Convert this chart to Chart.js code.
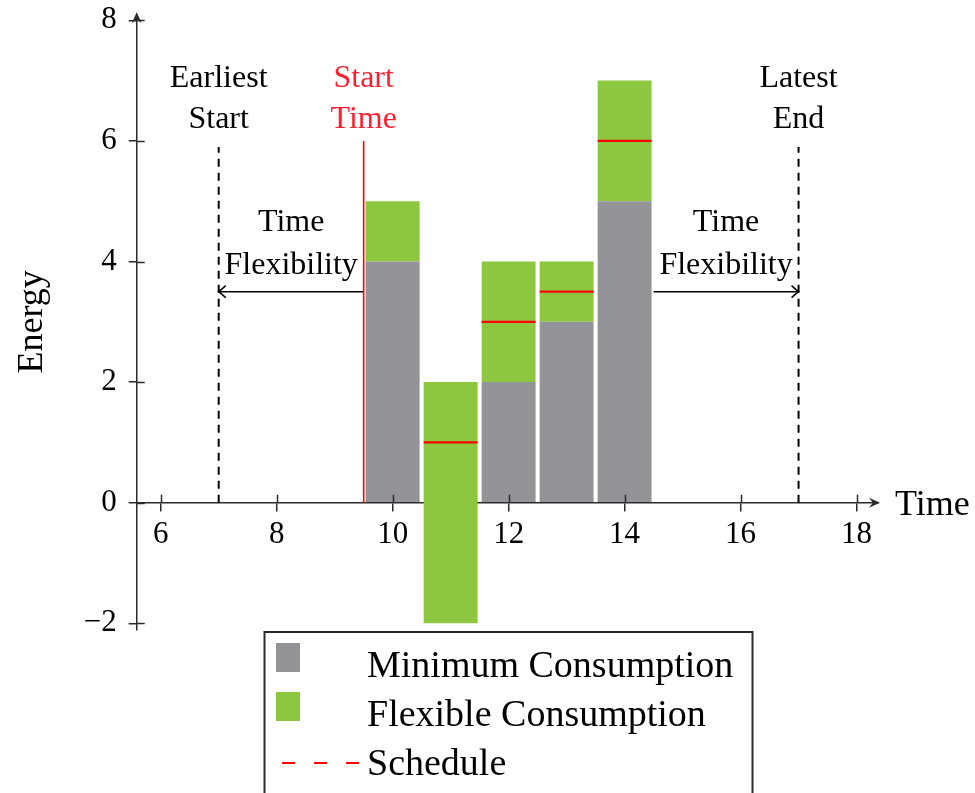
<!DOCTYPE html>
<html>
<head>
<meta charset="utf-8">
<script src="https://cdn.jsdelivr.net/npm/chart.js@4.4.1/dist/chart.umd.min.js"></script>
<style>
  html, body { margin: 0; padding: 0; background: #fff; }
  #wrap { width: 975px; height: 793px; }
</style>
</head>
<body>
<div id="wrap"><canvas id="chart-1" width="975" height="793"></canvas></div>
<script>
// time slots (bar centres)
const slots = [10, 11, 12, 13, 14];
// [low, high] energy of each block, null = no block in that slot
const minCons = [[0, 4], null, [0, 2], [0, 3], [0, 5]];
const flexCons = [[4, 5], [-2, 2], [2, 4], [3, 4], [5, 7]];
// schedule level per slot
const schedX = [11, 12, 13, 14];
const schedY = [1, 3, 3.5, 6];

// time markers
const earliestStart = 7;
const startTime = 9.5;
const latestEnd = 17;
const lastSlotEnd = 14.5;
const flexY = 3.5;
const markerTop = 5.9;
const startTop = 6;

const xTicks = [6, 8, 10, 12, 14, 16, 18];
const yTicks = [-2, 0, 2, 4, 6, 8];
const xRange = [5.586, 18.37];
const yRange = [-2.1, 8.1];

// text labels: lines, x value, y value of each line
const notes = [
    { lines: ['Earliest', 'Start'], x: 7, y: [7.04, 6.35], red: false },
    { lines: ['Start', 'Time'], x: 9.5, y: [7.04, 6.35], red: true },
    { lines: ['Latest', 'End'], x: 17, y: [7.03, 6.35], red: false },
    { lines: ['Time', 'Flexibility'], x: 8.25, y: [4.65, 3.94], red: false },
    { lines: ['Time', 'Flexibility'], x: 15.75, y: [4.65, 3.94], red: false }
];

const serif = "'Liberation Serif', 'Times New Roman', serif";
const ink = '#000';
const axisInk = '#2b2b2b';
const grey = '#939498';
const green = '#8dc63f';
const red = '#ff0000';
const barFrac = 0.93;

function blocks(arr) {
    let out = [];
    slots.forEach((x, i) => {
        if (arr[i]) out.push({ x: x, y: arr[i] });
    });
    return out;
}

function scheduleLine() {
    let hw = barFrac / 2;
    let out = [];
    schedX.forEach((x, i) => {
        out.push({ x: x - hw, y: schedY[i] });
        out.push({ x: x + hw, y: schedY[i] });
        out.push({ x: x + 0.5, y: null });
    });
    return out;
}

function stealth(ctx, x, y, ang, len, half) {
    ctx.save();
    ctx.translate(x, y);
    ctx.rotate(ang);
    ctx.beginPath();
    ctx.moveTo(0, 0);
    ctx.lineTo(-len, -half);
    ctx.lineTo(-len * 0.65, 0);
    ctx.lineTo(-len, half);
    ctx.closePath();
    ctx.fill();
    ctx.restore();
}

function openHead(ctx, x, y, ang, len, half) {
    ctx.save();
    ctx.translate(x, y);
    ctx.rotate(ang);
    ctx.beginPath();
    ctx.moveTo(-len, -half);
    ctx.quadraticCurveTo(-len * 0.3, -half * 0.25, 0, 0);
    ctx.quadraticCurveTo(-len * 0.3, half * 0.25, -len, half);
    ctx.stroke();
    ctx.restore();
}

// axis arrows, inner tick halves, arrow heads, texts
const decorations = {
    id: 'decorations',
    afterDatasetsDraw(chart) {
        const ctx = chart.ctx;
        const xs = chart.scales.x, ys = chart.scales.y;
        const x0 = xs.getPixelForValue(xRange[0]);
        const y0 = ys.getPixelForValue(0);
        ctx.save();
        ctx.strokeStyle = axisInk;
        ctx.fillStyle = axisInk;
        ctx.lineWidth = 1.5;
        // tick halves inside the plot
        xs.ticks.forEach(t => {
            let px = Math.round(xs.getPixelForValue(t.value)) + 0.5;
            ctx.beginPath();
            ctx.moveTo(px, y0);
            ctx.lineTo(px, y0 - 8);
            ctx.stroke();
        });
        ys.ticks.forEach(t => {
            let py = Math.round(ys.getPixelForValue(t.value)) + 0.5;
            ctx.beginPath();
            ctx.moveTo(x0, py);
            ctx.lineTo(x0 + 8, py);
            ctx.stroke();
        });
        // axis arrow heads
        stealth(ctx, xs.getPixelForValue(xRange[1]) + 2, y0, 0, 11, 5);
        stealth(ctx, x0, ys.getPixelForValue(yRange[1]) - 2, -Math.PI / 2, 11, 5);

        // heads on flexibility arrows
        ctx.strokeStyle = ink;
        ctx.lineWidth = 1.5;
        chart.data.datasets.forEach((ds, i) => {
            if (!ds.arrowEnd) return;
            let pts = chart.getDatasetMeta(i).data;
            let a = pts[pts.length - 2], b = pts[pts.length - 1];
            openHead(ctx, b.x, b.y, Math.atan2(b.y - a.y, b.x - a.x), 7, 6);
        });

        // notes
        ctx.textAlign = 'center';
        ctx.textBaseline = 'middle';
        ctx.font = '32px ' + serif;
        notes.forEach(n => {
            ctx.fillStyle = n.red ? '#ff1f2f' : ink;
            n.lines.forEach((s, k) => {
                ctx.fillText(s, xs.getPixelForValue(n.x), ys.getPixelForValue(n.y[k]));
            });
        });

        // x axis title at the arrow end
        ctx.fillStyle = ink;
        ctx.textAlign = 'left';
        ctx.textBaseline = 'alphabetic';
        ctx.font = '36px ' + serif;
        ctx.fillText('Time', xs.getPixelForValue(xRange[1]) + 17, y0 + 12);
        ctx.restore();
    }
};

// boxed legend under the plot
const legendBox = {
    id: 'legendBox',
    afterDraw(chart) {
        const ctx = chart.ctx;
        ctx.save();
        ctx.strokeStyle = '#2a2a2a';
        ctx.lineWidth = 2;
        ctx.strokeRect(264.5, 632, 488, 180);
        ctx.font = '38px ' + serif;
        ctx.textAlign = 'left';
        ctx.textBaseline = 'alphabetic';
        let items = chart.data.datasets.filter(d => d.inLegend);
        items.forEach((ds, i) => {
            let base = 677 + i * 49;
            if (ds.type === 'line') {
                ctx.strokeStyle = ds.borderColor;
                ctx.lineWidth = 2;
                ctx.setLineDash([13, 19]);
                ctx.beginPath();
                ctx.moveTo(282, base - 12);
                ctx.lineTo(360, base - 12);
                ctx.stroke();
                ctx.setLineDash([]);
            } else {
                ctx.fillStyle = ds.backgroundColor;
                ctx.fillRect(276, base - 34, 24, 29);
            }
            ctx.fillStyle = ink;
            ctx.fillText(ds.label, 367, base);
        });
        ctx.restore();
    }
};

const ctx = document.getElementById('chart-1').getContext('2d');

const chart_1 = new Chart(ctx, {
    type: 'bar',
    data: {
        datasets: [
            {
                label: 'Minimum Consumption',
                data: blocks(minCons),
                backgroundColor: grey,
                grouped: false,
                barPercentage: barFrac,
                categoryPercentage: 1,
                order: 2,
                inLegend: true
            },
            {
                label: 'Flexible Consumption',
                data: blocks(flexCons),
                backgroundColor: green,
                grouped: false,
                barPercentage: barFrac,
                categoryPercentage: 1,
                order: 2,
                inLegend: true
            },
            {
                type: 'line',
                label: 'Schedule',
                data: scheduleLine(),
                borderColor: red,
                borderWidth: 2.2,
                pointRadius: 0,
                spanGaps: false,
                order: 0,
                inLegend: true
            },
            {
                type: 'line',
                data: [{ x: earliestStart, y: 0 }, { x: earliestStart, y: markerTop }],
                borderColor: ink,
                borderWidth: 2,
                borderDash: [8, 6],
                pointRadius: 0,
                order: 1
            },
            {
                type: 'line',
                data: [{ x: latestEnd, y: 0 }, { x: latestEnd, y: markerTop }],
                borderColor: ink,
                borderWidth: 2,
                borderDash: [8, 6],
                pointRadius: 0,
                order: 1
            },
            {
                type: 'line',
                data: [{ x: startTime, y: 0 }, { x: startTime, y: startTop }],
                borderColor: red,
                borderWidth: 1.6,
                pointRadius: 0,
                order: 1
            },
            {
                type: 'line',
                data: [{ x: startTime, y: flexY }, { x: earliestStart, y: flexY }],
                borderColor: ink,
                borderWidth: 1.5,
                pointRadius: 0,
                order: 1,
                arrowEnd: true
            },
            {
                type: 'line',
                data: [{ x: lastSlotEnd, y: flexY }, { x: latestEnd, y: flexY }],
                borderColor: ink,
                borderWidth: 1.5,
                pointRadius: 0,
                order: 1,
                arrowEnd: true
            }
        ]
    },
    options: {
        responsive: false,
        animation: false,
        events: [],
        devicePixelRatio: 1,
        layout: {
            padding: { left: 0, right: 97, top: 14.3, bottom: 163.7 }
        },
        scales: {
            x: {
                type: 'linear',
                position: { y: 0 },
                min: xRange[0],
                max: xRange[1],
                offset: false,
                grid: {
                    offset: false,
                    drawOnChartArea: false,
                    color: axisInk,
                    lineWidth: 1.5,
                    tickLength: 8
                },
                border: { color: axisInk, width: 1.5 },
                ticks: {
                    font: { family: serif, size: 31 },
                    color: ink,
                    padding: 6,
                    maxRotation: 0
                },
                afterBuildTicks: scale => {
                    scale.ticks = xTicks.map(v => ({ value: v }));
                }
            },
            y: {
                type: 'linear',
                position: 'left',
                min: yRange[0],
                max: yRange[1],
                grid: {
                    drawOnChartArea: false,
                    color: axisInk,
                    lineWidth: 1.5,
                    tickLength: 8
                },
                border: { color: axisInk, width: 1.5 },
                ticks: {
                    font: { family: serif, size: 31, lineHeight: 0.05 },
                    color: ink,
                    padding: 12,
                    callback: v => String(v).replace('-', '\u2212')
                },
                title: {
                    display: true,
                    text: 'Energy',
                    color: ink,
                    font: { family: serif, size: 36 },
                    padding: { top: 11, bottom: 0 }
                },
                afterBuildTicks: scale => {
                    scale.ticks = yTicks.map(v => ({ value: v }));
                },
                afterFit: scale => {
                    scale.width = 136.7;
                }
            }
        },
        plugins: {
            legend: { display: false },
            tooltip: { enabled: false }
        }
    },
    plugins: [decorations, legendBox]
});
</script>
</body>
</html>
